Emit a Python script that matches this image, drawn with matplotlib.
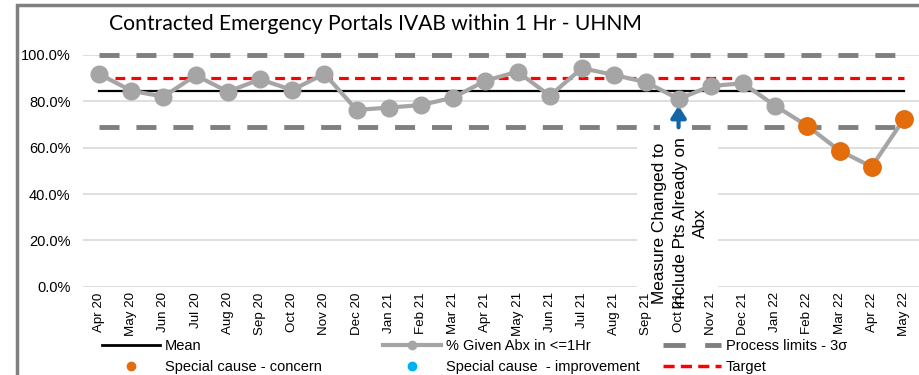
import matplotlib
matplotlib.use('Agg')
import matplotlib.pyplot as plt
from matplotlib.lines import Line2D
from matplotlib.patches import Rectangle

months = ['Apr 20', 'May 20', 'Jun 20', 'Jul 20', 'Aug 20', 'Sep 20', 'Oct 20',
          'Nov 20', 'Dec 20', 'Jan 21', 'Feb 21', 'Mar 21', 'Apr 21', 'May 21',
          'Jun 21', 'Jul 21', 'Aug 21', 'Sep 21', 'Oct 21', 'Nov 21', 'Dec 21',
          'Jan 22', 'Feb 22', 'Mar 22', 'Apr 22', 'May 22']
pct_given = [0.918, 0.846, 0.820, 0.912, 0.842, 0.895, 0.849, 0.919, 0.763,
             0.773, 0.784, 0.816, 0.889, 0.928, 0.824, 0.943, 0.914, 0.882,
             0.810, 0.866, 0.878, 0.781, 0.694, 0.587, 0.518, 0.724]
concern_months = ['Feb 22', 'Mar 22', 'Apr 22', 'May 22']

mean_val = 0.845
target_val = 0.90
ucl = 1.0
lcl = 0.688

change_month = 'Oct 21'
change_text = 'Measure Changed to\nInclude Pts Already on\nAbx'

grey_pt = '#A5A5A5'
limit_col = '#7F7F7F'
orange = '#E46C0A'
cyan = '#00B0F0'
arrow_blue = '#1265A6'

plt.rcParams['font.family'] = ['Liberation Sans', 'DejaVu Sans']
plt.rcParams['lines.scale_dashes'] = False

fig = plt.figure(figsize=(9.2, 3.75), dpi=100)
ax = fig.add_axes([83 / 920, 1 - 286.7 / 375, 1 - 83 / 920, 231.7 / 375])

x = list(range(len(months)))
ax.set_xlim(-0.5, len(months) - 0.5)
ax.set_ylim(0, 1.0)

# limits, mean, target
ax.plot([x[0], x[-1]], [ucl, ucl], color=limit_col, lw=3.5, dashes=(14.4, 12.2),
        zorder=2, clip_on=False)
ax.plot([x[0], x[-1]], [lcl, lcl], color=limit_col, lw=3.5, dashes=(14.4, 12.2), zorder=2)
ax.plot([x[0], x[-1]], [mean_val, mean_val], color='black', lw=1.6, zorder=2)
ax.plot([x[0], x[-1]], [target_val, target_val], color='#FF0000', lw=2.3,
        dashes=(7, 4.5), zorder=2.2)

# monthly series
ax.plot(x, pct_given, color=grey_pt, lw=3, marker='o', ms=12, mec=grey_pt, zorder=4)
cx = [months.index(m) for m in concern_months]
cy = [pct_given[i] for i in cx]
ax.plot(cx, cy, ls='none', marker='o', ms=12.5, color=orange, zorder=5)

# annotation for the measure change
ci = months.index(change_month)
ax.add_patch(Rectangle((16.72, 0), 2.51, 0.655, fc='white', ec='none', zorder=2.5,
                       clip_on=False))
ax.add_patch(Rectangle((17.43, 0.655), 1.0, 0.115, fc='white', ec='none', zorder=2.5))
ax.annotate('', xy=(ci, 0.781), xytext=(ci, lcl),
            arrowprops=dict(arrowstyle='-|>,head_width=0.45,head_length=0.7',
                            color=arrow_blue, lw=3, shrinkA=0, shrinkB=0), zorder=3)
ax.text(ci + 0.05, 0.275, change_text, rotation=90, ha='center', va='center',
        multialignment='center', fontsize=12.4, linespacing=1.45,
        zorder=6, clip_on=False)

ax.set_yticks([0, 0.2, 0.4, 0.6, 0.8, 1.0])
ax.set_yticklabels(['%.1f%%' % (v * 100) for v in ax.get_yticks()])
ax.set_xticks(x)
ax.set_xticklabels(months, rotation=90, fontsize=9.6)
ax.tick_params(axis='y', length=0, pad=9, labelsize=10.5, colors='black')
ax.tick_params(axis='x', length=0, pad=4, colors='black')
ax.grid(axis='y', color='#D9D9D9', lw=1.2)
ax.set_axisbelow(True)
for s in ax.spines.values():
    s.set_visible(False)

fig.text(375 / 920, 1 - 24 / 375, 'Contracted Emergency Portals IVAB within 1 Hr - UHNM',
         ha='center', va='center', fontsize=15.2, family=['Lato', 'DejaVu Sans'])

# legend, three columns of two rows
col1 = [Line2D([], [], color='black', lw=2),
        Line2D([], [], ls='none', marker='o', ms=6, color=orange)]
col2 = [Line2D([], [], color=grey_pt, lw=3, marker='o', ms=6),
        Line2D([], [], ls='none', marker='o', ms=6, color=cyan)]
col3 = [Line2D([], [], color=limit_col, lw=3.5, dashes=(16, 14)),
        Line2D([], [], color='#FF0000', lw=2.5, dashes=(8, 4.5))]
labels = [['Mean', 'Special cause - concern'],
          ['% Given Abx in <=1Hr', 'Special cause  - improvement'],
          ['Process limits - 3\u03c3', 'Target']]
for hx, hs, lb in zip([102, 383, 663], [col1, col2, col3], labels):
    fig.legend(hs, lb, loc='center left', bbox_to_anchor=(hx / 920, 1 - 356.5 / 375),
               frameon=False, borderpad=0, borderaxespad=0, handlelength=4.0,
               handletextpad=0.3, labelspacing=0.45, fontsize=10.5, numpoints=1)

# outer frame
fig.add_artist(Rectangle((17 / 920, -0.2), 1.0, 1.2 - 5 / 375, transform=fig.transFigure,
                         fill=False, ec='#808080', lw=2.5))

fig.savefig('out.png', dpi=100)
